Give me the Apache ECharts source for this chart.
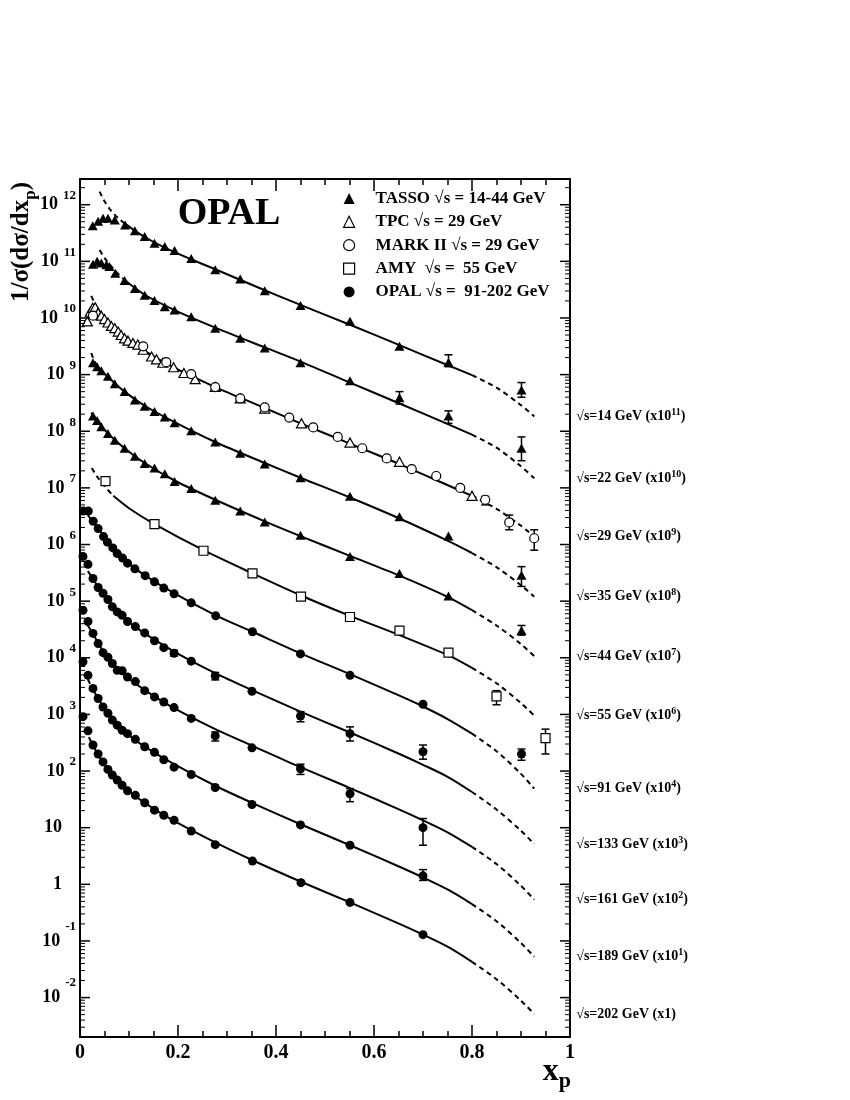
<!DOCTYPE html>
<html><head><meta charset="utf-8">
<script src="https://cdn.jsdelivr.net/npm/echarts@6.0.0/dist/echarts.min.js"></script>
<style>html,body{margin:0;padding:0;background:#fff}#c{width:850px;height:1100px}</style>
</head><body><div id="c"></div>
<script>
// ---------- measured data points (x_p, scaled 1/sigma dsigma/dx_p) ----------
const tasso14 = [[0.026,4.27e11],[0.037,5.13e11],[0.047,5.75e11],[0.057,5.75e11],[0.071,5.37e11],[0.092,4.37e11],[0.112,3.47e11],[0.132,2.75e11],[0.152,2.09e11],[0.173,1.82e11],[0.193,1.55e11],[0.227,1.12e11],[0.276,7.08e10],[0.327,4.90e10],[0.377,3.02e10],[0.45,1.66e10],[0.551,8.71e9],[0.652,3.16e9],[0.752,1.66e9],[0.901,5.37e8]];
const tasso22 = [[0.0265,8.91e10],[0.035,1.00e11],[0.0435,9.33e10],[0.054,8.71e10],[0.06,8.13e10],[0.072,6.17e10],[0.091,4.57e10],[0.112,3.31e10],[0.132,2.51e10],[0.152,2.04e10],[0.173,1.58e10],[0.193,1.38e10],[0.227,1.05e10],[0.276,6.61e9],[0.327,4.37e9],[0.377,2.95e9],[0.45,1.62e9],[0.551,7.76e8],[0.652,3.89e8],[0.752,1.86e8],[0.901,5.01e7]];
const tpc29 = [[0.015,8.71e9],[0.021,1.29e10],[0.026,1.51e10],[0.031,1.55e10],[0.037,1.23e10],[0.0435,1.10e10],[0.05,9.55e9],[0.057,8.32e9],[0.064,7.24e9],[0.071,6.61e9],[0.078,5.75e9],[0.084,5.01e9],[0.091,4.37e9],[0.098,3.98e9],[0.108,3.63e9],[0.118,3.39e9],[0.129,2.75e9],[0.146,2.09e9],[0.156,1.86e9],[0.169,1.62e9],[0.191,1.35e9],[0.212,1.07e9],[0.235,8.32e8],[0.276,6.03e8],[0.327,3.80e8],[0.377,2.51e8],[0.452,1.38e8],[0.551,6.31e7],[0.652,2.88e7],[0.80,7.24e6]];
const mark29 = [[0.0265,1.10e10],[0.129,3.16e9],[0.176,1.66e9],[0.227,1.02e9],[0.276,6.03e8],[0.327,3.80e8],[0.377,2.63e8],[0.427,1.74e8],[0.476,1.17e8],[0.526,7.94e7],[0.576,5.01e7],[0.626,3.31e7],[0.677,2.14e7],[0.727,1.62e7],[0.776,1.00e7],[0.827,6.17e6],[0.876,2.45e6],[0.927,1.29e6]];
const tasso35 = [[0.0265,1.62e9],[0.035,1.38e9],[0.0435,1.17e9],[0.057,9.33e8],[0.071,6.92e8],[0.091,5.01e8],[0.112,3.55e8],[0.132,2.75e8],[0.152,2.24e8],[0.173,1.78e8],[0.193,1.41e8],[0.227,1.02e8],[0.276,6.46e7],[0.327,4.07e7],[0.377,2.63e7],[0.45,1.51e7],[0.551,7.08e6],[0.652,3.09e6],[0.752,1.41e6],[0.901,2.88e5]];
const tasso44 = [[0.0265,1.86e8],[0.035,1.55e8],[0.0435,1.20e8],[0.057,9.12e7],[0.071,6.92e7],[0.091,5.01e7],[0.112,3.63e7],[0.132,2.69e7],[0.152,2.24e7],[0.173,1.78e7],[0.193,1.29e7],[0.227,9.77e6],[0.276,6.03e6],[0.327,3.89e6],[0.377,2.51e6],[0.45,1.45e6],[0.551,6.17e5],[0.652,3.09e5],[0.752,1.23e5],[0.901,3.02e4]];
const amy55 = [[0.052,1.32e7],[0.152,2.29e6],[0.252,7.76e5],[0.352,3.09e5],[0.451,1.20e5],[0.551,5.25e4],[0.652,3.02e4],[0.752,1.23e4],[0.85,2.09e3],[0.95,380]];
const opal91 = [[0.0068,3.89e6],[0.017,3.89e6],[0.027,2.57e6],[0.037,1.91e6],[0.048,1.38e6],[0.056,1.10e6],[0.067,8.71e5],[0.076,6.92e5],[0.087,5.75e5],[0.097,4.68e5],[0.112,3.72e5],[0.133,2.82e5],[0.152,2.19e5],[0.171,1.70e5],[0.192,1.35e5],[0.227,9.33e4],[0.277,5.50e4],[0.352,2.88e4],[0.45,1.17e4],[0.551,4.90e3],[0.70,1.51e3],[0.901,200]];
const opal133 = [[0.0061,6.17e5],[0.0163,4.47e5],[0.0265,2.51e5],[0.037,1.74e5],[0.047,1.38e5],[0.057,1.07e5],[0.066,7.94e4],[0.076,6.46e4],[0.086,5.62e4],[0.097,4.37e4],[0.113,3.55e4],[0.132,2.75e4],[0.152,2.00e4],[0.171,1.51e4],[0.192,1.20e4],[0.227,8.71e3],[0.276,4.79e3],[0.351,2.57e3],[0.45,933],[0.551,457],[0.70,219]];
const opal161 = [[0.0061,6.92e4],[0.0163,4.37e4],[0.0265,2.69e4],[0.037,1.78e4],[0.047,1.23e4],[0.057,1.02e4],[0.066,7.94e3],[0.076,6.03e3],[0.086,5.89e3],[0.097,4.57e3],[0.113,3.80e3],[0.132,2.63e3],[0.152,2.04e3],[0.171,1.66e3],[0.192,1.32e3],[0.227,851],[0.276,417],[0.351,257],[0.45,110],[0.551,39.8],[0.70,10.0]];
const opal189 = [[0.0061,8.51e3],[0.0163,4.90e3],[0.0265,2.88e3],[0.037,1.91e3],[0.047,1.35e3],[0.057,1.05e3],[0.066,794],[0.076,646],[0.086,525],[0.097,457],[0.113,363],[0.132,269],[0.152,214],[0.171,158],[0.192,117],[0.227,87.1],[0.276,51.3],[0.351,25.7],[0.45,11.2],[0.551,4.90],[0.70,1.41]];
const opal202 = [[0.0061,912],[0.0163,513],[0.0265,288],[0.037,200],[0.047,145],[0.057,107],[0.066,85.1],[0.076,69.2],[0.086,56.2],[0.097,44.7],[0.113,37.2],[0.132,27.5],[0.152,20.4],[0.171,16.6],[0.192,13.5],[0.227,8.71],[0.276,5.01],[0.352,2.57],[0.451,1.07],[0.551,0.479],[0.70,0.129]];

// ---------- error bars [x, low, high] ----------
const errTasso = [[0.752,1.38e9,2.24e9],[0.901,3.98e8,7.24e8],[0.652,3.02e8,5.01e8],[0.752,1.38e8,2.29e8],[0.901,3.02e7,7.94e7],[0.901,1.82e5,4.07e5],[0.901,2.51e4,3.72e4]];
const errMark = [[0.827,5.01e6,7.08e6],[0.876,1.82e6,3.31e6],[0.927,7.94e5,1.82e6]];
const errAmy = [[0.85,1.48e3,2.63e3],[0.95,200,550]];
const errOpal = [[0.901,155,245],[0.192,1.07e4,1.35e4],[0.276,4.07e3,5.50e3],[0.45,741,1.12e3],[0.551,339,603],[0.70,162,288],[0.276,339,490],[0.45,87.1,132],[0.551,28.8,49.0],[0.70,4.90,14.5],[0.70,1.17,1.82]];

// ---------- MLLA curves: low-x dashed, solid, high-x dashed ----------
const line14Low = [[0.04,1.70e12],[0.05,1.15e12],[0.06,8.51e11],[0.07,6.76e11],[0.08,5.62e11],[0.091,4.68e11]];
const line14Solid = [[0.091,4.68e11],[0.132,2.69e11],[0.193,1.45e11],[0.276,7.24e10],[0.377,3.09e10],[0.45,1.70e10],[0.551,7.59e9],[0.652,3.31e9],[0.752,1.45e9],[0.8,9.77e8]];
const line14High = [[0.8,9.77e8],[0.85,5.89e8],[0.9,2.88e8],[0.927,1.82e8]];
const line22Low = [[0.04,1.58e11],[0.05,1.15e11],[0.06,8.91e10],[0.07,7.08e10],[0.08,5.75e10],[0.091,4.68e10]];
const line22Solid = [[0.091,4.68e10],[0.132,2.57e10],[0.193,1.38e10],[0.276,6.76e9],[0.377,3.02e9],[0.45,1.70e9],[0.551,7.24e8],[0.652,3.09e8],[0.752,1.32e8],[0.8,8.71e7]];
const line22High = [[0.8,8.71e7],[0.85,5.13e7],[0.9,2.40e7],[0.927,1.48e7]];
const line29Low = [[0.023,2.45e10],[0.03,1.82e10],[0.04,1.26e10]];
const line29Solid = [[0.04,1.26e10],[0.06,7.94e9],[0.091,4.47e9],[0.13,2.69e9],[0.19,1.35e9],[0.276,6.03e8],[0.377,2.57e8],[0.45,1.38e8],[0.551,6.03e7],[0.652,2.63e7],[0.752,1.10e7],[0.8,7.24e6]];
const line29High = [[0.8,7.24e6],[0.85,4.27e6],[0.9,2.14e6],[0.927,1.38e6]];
const line35Low = [[0.023,2.40e9],[0.03,1.70e9],[0.04,1.26e9]];
const line35Solid = [[0.04,1.26e9],[0.057,9.12e8],[0.091,5.01e8],[0.132,2.82e8],[0.193,1.45e8],[0.276,6.46e7],[0.377,2.75e7],[0.45,1.51e7],[0.551,6.76e6],[0.652,2.88e6],[0.752,1.15e6],[0.8,7.08e5]];
const line35High = [[0.8,7.08e5],[0.85,3.98e5],[0.9,1.91e5],[0.927,1.20e5]];
const line44Low = [[0.023,2.14e8],[0.035,1.55e8]];
const line44Solid = [[0.035,1.55e8],[0.057,9.12e7],[0.091,5.01e7],[0.132,2.75e7],[0.193,1.35e7],[0.276,6.17e6],[0.377,2.57e6],[0.45,1.41e6],[0.551,6.31e5],[0.652,2.82e5],[0.752,1.17e5],[0.8,6.92e4]];
const line44High = [[0.8,6.92e4],[0.85,3.72e4],[0.9,1.74e4],[0.927,1.07e4]];
const line55Low = [[0.024,2.24e7],[0.035,1.58e7],[0.05,1.07e7],[0.068,7.24e6]];
const line55Solid = [[0.068,7.24e6],[0.1,4.37e6],[0.152,2.29e6],[0.252,7.94e5],[0.352,3.09e5],[0.451,1.26e5],[0.551,5.50e4],[0.652,2.51e4],[0.752,1.10e4],[0.8,6.61e3]];
const line55High = [[0.8,6.61e3],[0.85,3.55e3],[0.9,1.58e3],[0.927,955]];
const line91Low = [[0.016,3.31e6],[0.027,2.45e6]];
const line91Solid = [[0.027,2.45e6],[0.037,1.91e6],[0.048,1.45e6],[0.057,1.15e6],[0.076,7.24e5],[0.097,4.79e5],[0.133,2.82e5],[0.192,1.38e5],[0.277,5.62e4],[0.352,2.88e4],[0.45,1.20e4],[0.551,5.13e3],[0.652,2.14e3],[0.7,1.38e3],[0.752,813],[0.8,457]];
const line91High = [[0.8,457],[0.85,224],[0.9,89.1],[0.927,49.0]];
const line133Low = [[0.016,3.39e5],[0.0265,2.51e5]];
const line133Solid = [[0.0265,2.51e5],[0.037,1.78e5],[0.047,1.35e5],[0.057,1.05e5],[0.076,6.76e4],[0.097,4.47e4],[0.132,2.69e4],[0.192,1.29e4],[0.276,5.37e3],[0.351,2.69e3],[0.45,1.12e3],[0.551,479],[0.652,200],[0.7,129],[0.752,77.6],[0.8,42.7]];
const line133High = [[0.8,42.7],[0.85,20.9],[0.9,8.81],[0.927,5.13]];
const line161Low = [[0.016,3.72e4],[0.0265,2.69e4]];
const line161Solid = [[0.0265,2.69e4],[0.037,1.82e4],[0.047,1.32e4],[0.057,1.02e4],[0.076,6.46e3],[0.097,4.47e3],[0.132,2.69e3],[0.192,1.29e3],[0.276,550],[0.351,282],[0.45,117],[0.551,50.1],[0.652,20.9],[0.7,13.5],[0.752,8.13],[0.8,4.57]];
const line161High = [[0.8,4.57],[0.85,2.28],[0.9,0.940],[0.927,0.537]];
const line189Low = [[0.016,4.17e3],[0.0265,2.75e3]];
const line189Solid = [[0.0265,2.75e3],[0.037,1.91e3],[0.047,1.38e3],[0.057,1.05e3],[0.076,661],[0.097,447],[0.132,269],[0.192,132],[0.276,55.0],[0.351,27.5],[0.45,11.5],[0.551,4.90],[0.652,2.04],[0.7,1.32],[0.752,0.794],[0.8,0.447]];
const line189High = [[0.8,0.447],[0.85,0.223],[0.9,0.0918],[0.927,0.0525]];
const line202Low = [[0.018,398],[0.0265,282]];
const line202Solid = [[0.0265,282],[0.037,195],[0.047,141],[0.057,107],[0.076,67.6],[0.097,45.7],[0.132,27.5],[0.192,13.2],[0.276,5.50],[0.351,2.69],[0.45,1.12],[0.551,0.479],[0.652,0.200],[0.7,0.129],[0.752,0.0776],[0.8,0.0427]];
const line202High = [[0.8,0.0427],[0.85,0.0211],[0.9,0.00881],[0.927,0.00513]];

// ---------- labels ----------
const energies = ['14','22','29','35','44','55','91','133','161','189','202'];
const scaleExp = ['11','10','9','8','7','6','4','3','2','1',''];
const N_TASSO = 'TASSO \u221As = 14-44 GeV';
const N_TPC = 'TPC \u221As = 29 GeV';
const N_MARK = 'MARK II \u221As = 29 GeV';
const N_AMY = 'AMY  \u221As =  55 GeV';
const N_OPAL = 'OPAL \u221As =  91-202 GeV';
const xTicks = [0, 0.2, 0.4, 0.6, 0.8, 1];
const yDecades = [-2,-1,0,1,2,3,4,5,6,7,8,9,10,11,12];
const yMinorMantissas = [2,3,4,5,6,7,8,9];

// ---------- styling / assembly ----------
const FONT = '"Liberation Serif","Times New Roman",serif';
const Y_MIN = 2.014e-3, Y_MAX = 2.844e12;

const curves = [
  [line14Low, line14Solid, line14High], [line22Low, line22Solid, line22High],
  [line29Low, line29Solid, line29High], [line35Low, line35Solid, line35High],
  [line44Low, line44Solid, line44High], [line55Low, line55Solid, line55High],
  [line91Low, line91Solid, line91High], [line133Low, line133Solid, line133High],
  [line161Low, line161Solid, line161High], [line189Low, line189Solid, line189High],
  [line202Low, line202Solid, line202High]
];

function lineSeries(data, dashed) {
  return {
    type: 'line', data: data, symbol: 'none', showSymbol: false, silent: true,
    smooth: 0.3, z: 2, clip: false,
    lineStyle: { color: '#000', width: 2, type: dashed ? [5, 4] : 'solid' },
    emphasis: { disabled: true }
  };
}
const series = [];
curves.forEach((c, i) => {
  series.push(lineSeries(c[0], true));
  series.push(lineSeries(c[1], false));
  const hs = lineSeries(c[2], true);
  const lbl = scaleExp[i] ? '{a|\u221As=' + energies[i] + ' GeV (x10}{s|' + scaleExp[i] + '}{a|)}'
                          : '{a|\u221As=' + energies[i] + ' GeV (x1)}';
  hs.endLabel = {
    show: true, distance: 42, formatter: () => lbl,
    rich: {
      a: { fontFamily: FONT, fontWeight: 'bold', fontSize: 14, color: '#000', lineHeight: 18, verticalAlign: 'middle' },
      s: { fontFamily: FONT, fontWeight: 'bold', fontSize: 10, color: '#000', lineHeight: 10, verticalAlign: 'top' }
    }
  };
  series.push(hs);
});

function errSeries(data) {
  return {
    type: 'custom', data: data, z: 3, silent: true, clip: false,
    encode: { x: 0, y: [1, 2] },
    renderItem: function (params, api) {
      const x = api.value(0);
      const pLo = api.coord([x, api.value(1)]);
      const pHi = api.coord([x, api.value(2)]);
      const cw = 4, st = { stroke: '#000', lineWidth: 1.5 };
      return { type: 'group', children: [
        { type: 'line', shape: { x1: pLo[0], y1: pLo[1], x2: pHi[0], y2: pHi[1] }, style: st },
        { type: 'line', shape: { x1: pLo[0] - cw, y1: pLo[1], x2: pLo[0] + cw, y2: pLo[1] }, style: st },
        { type: 'line', shape: { x1: pHi[0] - cw, y1: pHi[1], x2: pHi[0] + cw, y2: pHi[1] }, style: st }
      ]};
    }
  };
}
[errTasso, errMark, errAmy, errOpal].forEach(e => series.push(errSeries(e)));

const filledStyle = { color: '#000', opacity: 1 };
const openStyle = { color: '#fff', borderColor: '#000', borderWidth: 1.2, opacity: 1 };
function scatter(name, data, symbol, size, style) {
  return { type: 'scatter', name: name, data: data, symbol: symbol, symbolSize: size,
           itemStyle: style, z: 4, silent: true, emphasis: { disabled: true } };
}
series.push(scatter(N_TASSO, tasso14, 'triangle', [10, 9], filledStyle));
series.push(scatter(N_TASSO, tasso22, 'triangle', [10, 9], filledStyle));
series.push(scatter(N_TASSO, tasso35, 'triangle', [10, 9], filledStyle));
series.push(scatter(N_TASSO, tasso44, 'triangle', [10, 9], filledStyle));
series.push(scatter(N_TPC, tpc29, 'triangle', [10, 9], openStyle));
series.push(scatter(N_MARK, mark29, 'circle', 9, openStyle));
series.push(scatter(N_AMY, amy55, 'rect', 9, openStyle));
[opal91, opal133, opal161, opal189, opal202].forEach(d => series.push(scatter(N_OPAL, d, 'circle', 9, filledStyle)));

// y-axis decade ticks + labels (left and right frame) and log minor ticks
const majorTickData = yDecades.map(e => [0, Math.pow(10, e), e]);
const minorTickData = [];
[-3].concat(yDecades).forEach(e => yMinorMantissas.forEach(m => {
  const v = m * Math.pow(10, e);
  if (v > Y_MIN && v < Y_MAX) minorTickData.push([0, v]);
}));
function yLabel(e) {
  if (e === 0) return '{p|1}';
  if (e === 1) return '{p|10}';
  return (e < 0 ? '{bn|10}' : '{b|10}') + '{s|' + e + '}';
}
const tok = (size, extra) => Object.assign({ fontFamily: FONT, fontWeight: 'bold', fontSize: size, fill: '#000' }, extra);
series.push({
  type: 'custom', data: majorTickData, z: 6, silent: true, clip: false, encode: { x: 0, y: 1 },
  renderItem: function (params, api) {
    const v = api.value(1), e = api.value(2);
    const p0 = api.coord([0, v]), p1 = api.coord([1, v]);
    const st = { stroke: '#000', lineWidth: 1.5 };
    return { type: 'group', children: [
      { type: 'line', shape: { x1: p0[0], y1: p0[1], x2: p0[0] + 10, y2: p0[1] }, style: st },
      { type: 'line', shape: { x1: p1[0] - 10, y1: p1[1], x2: p1[0], y2: p1[1] }, style: st },
      { type: 'text', x: p0[0] - 4, y: p0[1], style: {
          text: yLabel(e), align: 'right', verticalAlign: 'middle',
          rich: {
            p: tok(18, { padding: [0, 14, 0, 0], verticalAlign: 'middle' }),
            b: tok(18, { lineHeight: 31, verticalAlign: 'middle' }),
            bn: tok(18, { lineHeight: 42, verticalAlign: 'middle' }),
            s: tok(13, { verticalAlign: 'top', padding: [0, 0, 0, 5] })
          } } }
    ]};
  }
});
series.push({
  type: 'custom', data: minorTickData, z: 6, silent: true, clip: false, encode: { x: 0, y: 1 },
  renderItem: function (params, api) {
    const v = api.value(1);
    const p0 = api.coord([0, v]), p1 = api.coord([1, v]);
    const st = { stroke: '#000', lineWidth: 1 };
    return { type: 'group', children: [
      { type: 'line', shape: { x1: p0[0], y1: p0[1], x2: p0[0] + 5, y2: p0[1] }, style: st },
      { type: 'line', shape: { x1: p1[0] - 5, y1: p1[1], x2: p1[0], y2: p1[1] }, style: st }
    ]};
  }
});

const xAxisBase = {
  type: 'value', min: xTicks[0], max: xTicks[xTicks.length - 1], interval: xTicks[1] - xTicks[0],
  axisLine: { show: true, onZero: false, lineStyle: { color: '#000', width: 2 } },
  axisTick: { show: true, inside: true, length: 12, lineStyle: { color: '#000', width: 1.5 } },
  minorTick: { show: true, splitNumber: 4, length: 6, lineStyle: { color: '#000', width: 1.5 } },
  splitLine: { show: false }, minorSplitLine: { show: false }
};
const yAxisBase = {
  type: 'log', logBase: 10, min: Y_MIN, max: Y_MAX,
  axisLine: { show: true, onZero: false, lineStyle: { color: '#000', width: 2 } },
  axisTick: { show: false }, axisLabel: { show: false }, splitLine: { show: false }
};

const legendItem = (name, icon, style) => ({ name: name, icon: icon, itemStyle: style });
const option = {
  animation: false,
  backgroundColor: '#fff',
  grid: { left: 80, top: 179, width: 490, height: 858, outerBoundsMode: 'none' },
  xAxis: [
    Object.assign({}, xAxisBase, { position: 'bottom',
      axisLabel: { show: true, fontFamily: FONT, fontWeight: 'bold', fontSize: 20, color: '#000', margin: 6 } }),
    Object.assign({}, xAxisBase, { position: 'top', axisLabel: { show: false } })
  ],
  yAxis: [
    Object.assign({}, yAxisBase, { position: 'left' }),
    Object.assign({}, yAxisBase, { position: 'right' })
  ],
  legend: {
    orient: 'vertical', left: 338, top: 185, padding: 5, itemWidth: 11, itemHeight: 11, itemGap: 6.35,
    selectedMode: false,
    textStyle: { fontFamily: FONT, fontWeight: 'bold', fontSize: 17, color: '#000', lineHeight: 17, padding: [0, 0, 0, 16] },
    data: [
      legendItem(N_TASSO, 'triangle', { color: '#000', borderWidth: 0, opacity: 1 }),
      legendItem(N_TPC, 'triangle', { color: '#fff', borderColor: '#000', borderWidth: 1.2, opacity: 1 }),
      legendItem(N_MARK, 'circle', { color: '#fff', borderColor: '#000', borderWidth: 1.2, opacity: 1 }),
      legendItem(N_AMY, 'rect', { color: '#fff', borderColor: '#000', borderWidth: 1.2, opacity: 1 }),
      legendItem(N_OPAL, 'circle', { color: '#000', borderWidth: 0, opacity: 1 })
    ]
  },
  graphic: [
    { type: 'text', x: 229, y: 214, silent: true,
      style: { text: 'OPAL', align: 'center', verticalAlign: 'middle', fill: '#000',
               font: 'bold 38px ' + FONT } },
    { type: 'text', x: 22, y: 242, rotation: Math.PI / 2, silent: true,
      style: { text: '{t|1/\u03C3(d\u03C3/dx}{p|p}{t|)}', align: 'center', verticalAlign: 'middle',
               rich: { t: tok(25, { lineHeight: 34, verticalAlign: 'middle' }), p: tok(17, { verticalAlign: 'bottom' }) } } },
    { type: 'text', x: 571, y: 1072, silent: true,
      style: { text: '{x|x}{p|p}', align: 'right', verticalAlign: 'middle',
               rich: { x: tok(32, { lineHeight: 40, verticalAlign: 'middle' }), p: tok(22, { verticalAlign: 'bottom' }) } } }
  ],
  series: series
};
const chart = echarts.init(document.getElementById('c'), null, { renderer: 'canvas' });
chart.setOption(option);
</script></body></html>
